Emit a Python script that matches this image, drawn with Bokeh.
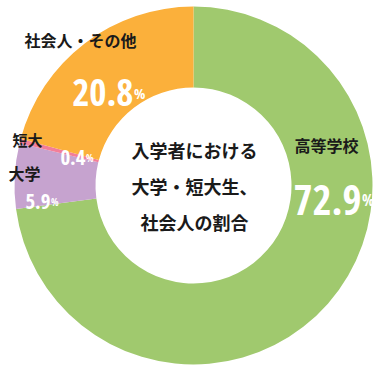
import math
from bokeh.plotting import figure
from bokeh.models import Range1d
from bokeh.core.properties import value
from bokeh.embed import file_html
from bokeh.resources import INLINE

# ---- data ----
categories = ["高等学校", "大学", "短大", "社会人・その他"]
values = [72.9, 5.9, 0.4, 20.8]
colors = ["#a0c96e", "#c6a3cf", "#f27e99", "#fbb03b"]
center_lines = ["入学者における", "大学・短大生、", "社会人の割合"]

W, H = 383, 370
def Y(y):
    return H - y

p = figure(width=W, height=H, x_range=Range1d(0, W), y_range=Range1d(0, H),
           output_backend="svg", toolbar_location=None, min_border=0)
p.axis.visible = False
p.grid.visible = False
p.outline_line_color = None
p.background_fill_color = "white"
p.border_fill_color = "white"

cx, cy = 193, 185
total = sum(values)
starts, ends = [], []
a = math.pi / 2
for v in values:
    starts.append(a)
    a -= 2 * math.pi * v / total
    ends.append(a)

p.annular_wedge(x=[cx] * len(values), y=[Y(cy)] * len(values), inner_radius=98, outer_radius=179,
                start_angle=starts, end_angle=ends, direction="clock",
                fill_color=colors, line_color=None)

JP = value("Noto Sans CJK JP")
NUM = value("Open Sans Condensed")

def jp(x, y, t, size, color="#1a1a1a"):
    p.text(x=[x], y=[Y(y)], text=[t], text_font=JP, text_font_size=value(f"{size}px"),
           text_font_style="bold", text_align="center", text_baseline="middle", text_color=color)

def num(xr, yb, v, size, psize):
    p.text(x=[xr], y=[Y(yb)], text=[f"{v}"], text_font=NUM, text_font_size=value(f"{size}px"),
           text_font_style="bold", text_align="right", text_baseline="alphabetic", text_color="white")
    p.text(x=[xr + 0.5], y=[Y(yb)], text=["%"], text_font=NUM, text_font_size=value(f"{psize}px"),
           text_font_style="bold", text_align="left", text_baseline="alphabetic", text_color="white")

# category labels
jp(326, 144, categories[0], 16)
jp(24, 172, categories[1], 16)
jp(27, 139, categories[2], 15)
jp(80, 39, categories[3], 16)

# values
num(361, 199, values[0], 41, 16)
num(50, 201, values[1], 21, 10)
num(85, 157, values[2], 21, 10)
num(133, 92, values[3], 37, 15)

# center text
for i, t in enumerate(center_lines):
    jp(194, 149 + 36 * i, t, 18)

open("out.html", "w").write(file_html(p, INLINE))
